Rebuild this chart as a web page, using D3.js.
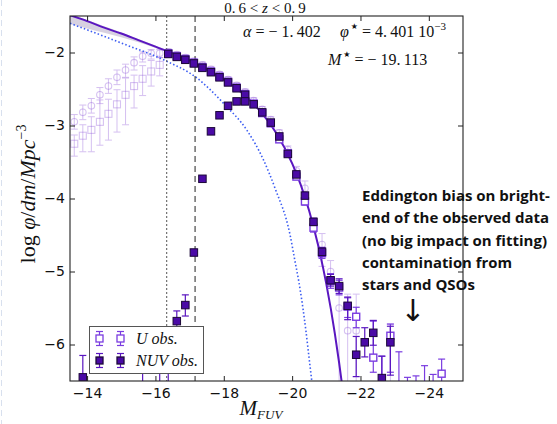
<!DOCTYPE html>
<html>
<head>
<meta charset="utf-8">
<script src="https://cdn.jsdelivr.net/npm/d3@7"></script>
<style>
    body { margin: 0; background: #fff; }
    svg { display: block; }
    .tick text { font-family: "DejaVu Sans", sans-serif; font-size: 14px; fill: #111; }
    .tick line { stroke: #222; }
    .math { font-family: "Liberation Serif", "DejaVu Serif", serif; fill: #111; }
    .note { font-family: "Open Sans", Lato, sans-serif; font-weight: bold; font-size: 15px; fill: #111; }
</style>
</head>
<body>
<div id="chart"></div>
<script>
// ticks
const xTicks = [-14, -16, -18, -20, -22, -24];
const yTicks = [-2, -3, -4, -5, -6];

// NUV obs. (filled squares)
const nuvMag = [-16.375, -16.625, -16.875, -17.125, -17.375, -17.625, -17.875, -18.125, -18.375, -18.625,
    -18.875, -19.125, -19.375, -19.625, -19.875, -20.125, -20.375, -20.625, -20.875, -21.125,
    -21.375, -21.625, -21.875, -22.125, -22.375, -22.625, -22.875,
    -13.875, -15.625, -16.125, -16.375, -16.625, -16.875, -17.125, -17.375, -17.625, -17.875,
    -18.125, -18.375, -18.625];
const nuvLogPhi = [-2.02, -2.06, -2.10, -2.15, -2.21, -2.27, -2.34, -2.41, -2.49, -2.58,
    -2.71, -2.82, -2.96, -3.15, -3.39, -3.67, -3.96, -4.32, -4.73, -5.12,
    -5.20, -5.47, -6.14, -5.97, -5.84, -6.46, -5.97,
    -6.45, -6.90, -6.90, -6.90, -5.68, -5.46, -4.74, -3.73, -3.08, -2.86,
    -2.73, -2.67, -2.67];
const nuvErrLo = [0.04, 0.04, 0.04, 0.04, 0.03, 0.03, 0.03, 0.03, 0.03, 0.03,
    0.03, 0.03, 0.03, 0.03, 0.03, 0.04, 0.04, 0.05, 0.06, 0.08,
    0.10, 0.19, 0.30, 0.20, 0.17, 0.30, 0.45,
    0.30, 0.30, 0.30, 0.30, 0.20, 0.15, 0.04, 0.03, 0.03, 0.03,
    0.03, 0.03, 0.03];
const nuvErrHi = [0.04, 0.04, 0.04, 0.04, 0.03, 0.03, 0.03, 0.03, 0.03, 0.03,
    0.03, 0.03, 0.03, 0.03, 0.03, 0.04, 0.04, 0.05, 0.06, 0.08,
    0.10, 0.12, 0.25, 0.20, 0.17, 0.30, 0.22,
    0.30, 0.70, 0.70, 0.70, 0.14, 0.14, 0.04, 0.03, 0.03, 0.03,
    0.03, 0.03, 0.03];

// U obs. (open squares)
const uMag = [-16.375, -16.625, -16.875, -17.125, -17.375, -17.625, -17.875, -18.125, -18.375, -18.625,
    -18.875, -19.125, -19.375, -19.625, -19.875, -20.125, -20.375, -20.625, -20.875, -21.125,
    -21.375, -21.625, -21.875, -22.375, -22.625, -22.875, -23.125, -23.375, -23.625, -23.875,
    -24.125, -24.375];
const uLogPhi = [-2.01, -2.05, -2.09, -2.14, -2.20, -2.26, -2.33, -2.40, -2.48, -2.57,
    -2.70, -2.83, -2.97, -3.19, -3.38, -3.70, -4.04, -4.40, -4.75, -5.13,
    -5.22, -5.48, -5.62, -6.18, -6.90, -5.88, -6.90, -6.90, -6.90, -6.90,
    -6.90, -6.40];
const uErrLo = [0.04, 0.04, 0.04, 0.04, 0.03, 0.03, 0.03, 0.03, 0.03, 0.03,
    0.03, 0.03, 0.03, 0.03, 0.03, 0.04, 0.05, 0.06, 0.07, 0.10,
    0.10, 0.15, 0.15, 0.20, 0.10, 0.50, 0.10, 0.10, 0.10, 0.10,
    0.10, 0.30];
const uErrHi = [0.04, 0.04, 0.04, 0.04, 0.03, 0.03, 0.03, 0.03, 0.03, 0.03,
    0.03, 0.03, 0.03, 0.03, 0.03, 0.04, 0.05, 0.06, 0.07, 0.10,
    0.10, 0.12, 0.13, 0.50, 0.74, 0.16, 0.80, 0.45, 0.47, 0.61,
    0.49, 0.20];

// faded open circles
const fcMag = [-13.625, -13.875, -14.125, -14.375, -14.625, -14.875, -15.125, -15.375, -15.625, -15.875,
    -16.125, -16.375, -16.625, -16.875, -17.125, -17.375, -17.625, -17.875, -18.125, -18.375,
    -18.625, -18.875, -19.125, -19.375, -19.625, -19.875, -20.125, -20.375, -20.875, -21.125,
    -21.375, -21.625, -21.875, -22.875];
const fcLogPhi = [-2.95, -2.82, -2.73, -2.58, -2.46, -2.34, -2.24, -2.14, -2.05, -2.01,
    -2.01, -1.99, -2.03, -2.07, -2.12, -2.17, -2.23, -2.30, -2.37, -2.45,
    -2.54, -2.66, -2.78, -2.92, -3.10, -3.33, -3.62, -3.86, -4.63, -5.00,
    -5.50, -5.81, -5.81, -6.90];
const fcErrLo = [0.10, 0.10, 0.10, 0.12, 0.10, 0.10, 0.10, 0.10, 0.08, 0.08,
    0.06, 0.04, 0.04, 0.04, 0.04, 0.04, 0.04, 0.04, 0.04, 0.04,
    0.04, 0.04, 0.04, 0.04, 0.04, 0.05, 0.06, 0.10, 0.30, 0.15,
    1.20, 1.00, 1.00, 0.10];
const fcErrHi = [0.10, 0.10, 0.10, 0.10, 0.10, 0.10, 0.08, 0.08, 0.06, 0.05,
    0.05, 0.04, 0.04, 0.04, 0.04, 0.04, 0.04, 0.04, 0.04, 0.04,
    0.04, 0.04, 0.04, 0.04, 0.04, 0.05, 0.06, 0.10, 0.15, 0.15,
    0.30, 0.50, 0.50, 1.18];

// faded open squares
const fsMag = [-13.625, -13.875, -14.125, -14.375, -14.625, -14.875, -15.125, -15.375, -15.625, -15.875, -16.125];
const fsLogPhi = [-3.25, -3.14, -3.06, -2.95, -2.84, -2.71, -2.58, -2.46, -2.36, -2.26, -2.17];
const fsErrLo = [0.17, 0.22, 0.30, 0.32, 0.36, 0.38, 0.41, 0.30, 0.23, 0.20, 0.15];
const fsErrHi = [0.12, 0.15, 0.18, 0.30, 0.20, 0.20, 0.23, 0.15, 0.18, 0.15, 0.10];

// Schechter fit (solid)
const fitMag = [-13.5, -14, -14.5, -15, -15.5, -16, -16.5, -17, -17.5, -18, -18.5, -19, -19.5, -20,
    -20.25, -20.5, -20.75, -21, -21.25, -21.375, -21.5];
const fitLogPhi = [-1.49, -1.57, -1.66, -1.74, -1.83, -1.92, -2.01, -2.11, -2.23, -2.37, -2.54, -2.77, -3.08, -3.52,
    -3.81, -4.17, -4.62, -5.17, -5.85, -6.25, -6.69];

// uncertainty band of the fit
const bandMag = [-13.5, -14.0, -14.5, -15.0, -15.5, -16.0, -16.5];
const bandHi = [-1.47, -1.555, -1.64, -1.725, -1.815, -1.905, -2.0];
const bandLo = [-1.61, -1.67, -1.73, -1.79, -1.86, -1.94, -2.025];

// reference curve (blue dotted)
const refMag = [-13.5, -15, -16.33, -17.16, -18.04, -18.67, -19.16, -19.5, -19.94, -20.08, -20.2, -20.3, -20.4, -20.5, -20.58];
const refLogPhi = [-1.60, -1.87, -2.12, -2.33, -2.72, -3.06, -3.47, -3.86, -4.50, -4.85, -5.15, -5.45, -5.80, -6.20, -6.52];

// limits
const limDotted = -16.33;
const limDashed = -17.16;

const noteLines = ["Eddington bias on bright-", "end of the observed data", "(no big impact on fitting)",
    "contamination from", "stars and QSOs"];
const noteWidths = [null, null, null, 150, 113];

const [svgW, svgH] = [557, 424];
const PLOT = {left: 70, right: 463, top: 16, bottom: 381};
const PURPLE = '#5a16c0';
const U_COL = '#7a3ce0';
const FADE_COL = '#8a4fd8';

let svg = d3.select('#chart').append('svg').attr('width', svgW).attr('height', svgH);

let x = d3.scaleLinear().domain([-13.5, -25]).range([PLOT.left, PLOT.right]);
let y = d3.scaleLinear().domain([-6.5, -1.5]).range([PLOT.bottom, PLOT.top]);

function zip(mag, val, lo, hi) {
    return mag.map(function (m, i) {
        return {m: m, v: val[i], lo: lo ? lo[i] : 0, hi: hi ? hi[i] : 0};
    });
}

// slide border on the left
svg.append('line').attr('x1', 1.5).attr('x2', 1.5).attr('y1', 0).attr('y2', svgH)
    .attr('stroke', '#d8e0ee').attr('stroke-dasharray', '6,4');

svg.append('defs').append('clipPath').attr('id', 'clip')
    .append('rect').attr('x', PLOT.left).attr('y', PLOT.top)
    .attr('width', PLOT.right - PLOT.left).attr('height', PLOT.bottom - PLOT.top);

let g = svg.append('g').attr('clip-path', 'url(#clip)');

function renderErrors(sel, data, color, opacity, width) {
    let eg = sel.append('g').attr('stroke', color).attr('stroke-width', width).attr('opacity', opacity);
    eg.selectAll('line.v').data(data).enter().append('line').attr('class', 'v')
        .attr('x1', d => x(d.m)).attr('x2', d => x(d.m))
        .attr('y1', d => y(d.v - d.lo)).attr('y2', d => y(d.v + d.hi));
    eg.selectAll('line.t').data(data).enter().append('line').attr('class', 't')
        .attr('x1', d => x(d.m) - 3.5).attr('x2', d => x(d.m) + 3.5)
        .attr('y1', d => y(d.v + d.hi)).attr('y2', d => y(d.v + d.hi));
    eg.selectAll('line.b').data(data).enter().append('line').attr('class', 'b')
        .attr('x1', d => x(d.m) - 3.5).attr('x2', d => x(d.m) + 3.5)
        .attr('y1', d => y(d.v - d.lo)).attr('y2', d => y(d.v - d.lo));
}

function renderSquares(sel, data, size, fill, stroke, sw, opacity) {
    sel.append('g').selectAll('rect').data(data).enter().append('rect')
        .attr('x', d => x(d.m) - size / 2).attr('y', d => y(d.v) - size / 2)
        .attr('width', size).attr('height', size)
        .attr('fill', fill).attr('stroke', stroke).attr('stroke-width', sw).attr('opacity', opacity);
}

// band
let band = bandMag.map((m, i) => ({m: m, hi: bandHi[i], lo: bandLo[i]}));
g.append('path').datum(band).attr('fill', '#cdc6da').attr('opacity', 0.8)
    .attr('d', d3.area().x(d => x(d.m)).y0(d => y(d.lo)).y1(d => y(d.hi)).curve(d3.curveMonotoneX));

// faded data
let fc = zip(fcMag, fcLogPhi, fcErrLo, fcErrHi);
let fs = zip(fsMag, fsLogPhi, fsErrLo, fsErrHi);
renderErrors(g, fc, FADE_COL, 0.35, 1);
renderErrors(g, fs, FADE_COL, 0.35, 1);
g.append('g').selectAll('circle').data(fc).enter().append('circle')
    .attr('cx', d => x(d.m)).attr('cy', d => y(d.v)).attr('r', 3.3)
    .attr('fill', 'none').attr('stroke', FADE_COL).attr('stroke-width', 1.1).attr('opacity', 0.35);
renderSquares(g, fs, 7, 'none', FADE_COL, 1.1, 0.35);

// reference curve
g.append('path').datum(zip(refMag, refLogPhi))
    .attr('fill', 'none').attr('stroke', '#3b5cf2').attr('stroke-width', 1.6)
    .attr('stroke-dasharray', '1.5,2.2')
    .attr('d', d3.line().x(d => x(d.m)).y(d => y(d.v)).curve(d3.curveMonotoneX));

// completeness limits
g.append('line').attr('x1', x(limDotted)).attr('x2', x(limDotted)).attr('y1', PLOT.top).attr('y2', PLOT.bottom)
    .attr('stroke', '#555').attr('stroke-dasharray', '2,2').attr('stroke-width', 1);
g.append('line').attr('x1', x(limDashed)).attr('x2', x(limDashed)).attr('y1', PLOT.top).attr('y2', PLOT.bottom)
    .attr('stroke', '#222').attr('stroke-dasharray', '6,4').attr('stroke-width', 1);

// fit
g.append('path').datum(zip(fitMag, fitLogPhi))
    .attr('fill', 'none').attr('stroke', PURPLE).attr('stroke-width', 2)
    .attr('d', d3.line().x(d => x(d.m)).y(d => y(d.v)).curve(d3.curveMonotoneX));

// U obs.
let uData = zip(uMag, uLogPhi, uErrLo, uErrHi);
renderErrors(g, uData, U_COL, 1, 1.2);
renderSquares(g, uData, 7, '#fff', U_COL, 1.4, 1);

// NUV obs.
let nuvData = zip(nuvMag, nuvLogPhi, nuvErrLo, nuvErrHi);
renderErrors(g, nuvData, PURPLE, 1, 1.2);
renderSquares(g, nuvData, 7.5, '#4a0aa6', '#1c0838', 1, 1);

// axes
let axB = svg.append('g').attr('transform', 'translate(0,' + PLOT.bottom + ')')
    .call(d3.axisBottom(x).tickValues(xTicks).tickSize(-5).tickPadding(7).tickFormat(d3.format('d')));
let axT = svg.append('g').attr('transform', 'translate(0,' + PLOT.top + ')')
    .call(d3.axisTop(x).tickValues(xTicks).tickSize(-5).tickFormat(''));
let axL = svg.append('g').attr('transform', 'translate(' + PLOT.left + ',0)')
    .call(d3.axisLeft(y).tickValues(yTicks).tickSize(-5).tickPadding(5).tickFormat(d3.format('d')));
let axR = svg.append('g').attr('transform', 'translate(' + PLOT.right + ',0)')
    .call(d3.axisRight(y).tickValues(yTicks).tickSize(-5).tickFormat(''));
[axB, axT, axL, axR].forEach(a => a.select('.domain').remove());
svg.append('rect').attr('x', PLOT.left).attr('y', PLOT.top)
    .attr('width', PLOT.right - PLOT.left).attr('height', PLOT.bottom - PLOT.top)
    .attr('fill', 'none').attr('stroke', '#222').attr('stroke-width', 1.1);

// legend
let lg = svg.append('g');
lg.append('rect').attr('x', 89.5).attr('y', 326.5).attr('width', 114).attr('height', 47)
    .attr('fill', '#fff').attr('stroke', '#555').attr('stroke-width', 1);
[{label: 'U obs.', y: 338.5, fill: '#fff', stroke: U_COL, err: U_COL},
    {label: 'NUV obs.', y: 360.5, fill: '#4a0aa6', stroke: '#1c0838', err: PURPLE}].forEach(function (e) {
    [99.5, 120.5].forEach(function (px) {
        lg.append('line').attr('x1', px).attr('x2', px).attr('y1', e.y - 7).attr('y2', e.y + 7)
            .attr('stroke', e.err).attr('stroke-width', 1.2);
        [e.y - 7, e.y + 7].forEach(function (cy) {
            lg.append('line').attr('x1', px - 3.5).attr('x2', px + 3.5).attr('y1', cy).attr('y2', cy)
                .attr('stroke', e.err).attr('stroke-width', 1.2);
        });
        lg.append('rect').attr('x', px - 3.5).attr('y', e.y - 3.5).attr('width', 7).attr('height', 7)
            .attr('fill', e.fill).attr('stroke', e.stroke).attr('stroke-width', 1.3);
    });
    lg.append('text').attr('class', 'math').attr('x', 136).attr('y', e.y + 5.5)
        .attr('font-size', 16).attr('font-style', 'italic').text(e.label);
});

// title
let title = svg.append('text').attr('class', 'math').attr('x', 265).attr('y', 13)
    .attr('text-anchor', 'middle').attr('font-size', 15);
title.append('tspan').text('0.\u20096 < ');
title.append('tspan').attr('font-style', 'italic').text('z');
title.append('tspan').text(' < 0.\u20099');

// fit parameters
let t1 = svg.append('text').attr('class', 'math').attr('x', 243).attr('y', 37).attr('font-size', 16);
t1.append('tspan').attr('font-style', 'italic').text('α');
t1.append('tspan').text(' = \u2212 1.\u2009402');
let t2 = svg.append('text').attr('class', 'math').attr('x', 340).attr('y', 37).attr('font-size', 16);
t2.append('tspan').attr('font-style', 'italic').text('φ');
t2.append('tspan').attr('font-size', 8).attr('dx', 2).attr('dy', -8).attr('font-family', 'DejaVu Sans').text('★');
t2.append('tspan').attr('dy', 8).text(' = 4.\u2009401 10');
t2.append('tspan').attr('font-size', 11).attr('dy', -7).text('\u22123');
let t3 = svg.append('text').attr('class', 'math').attr('x', 328).attr('y', 65).attr('font-size', 16);
t3.append('tspan').attr('font-style', 'italic').text('M');
t3.append('tspan').attr('font-size', 8).attr('dx', 2).attr('dy', -8).attr('font-family', 'DejaVu Sans').text('★');
t3.append('tspan').attr('dy', 8).text(' = \u2212 19.\u2009113');

// axis labels
let yl = svg.append('text').attr('class', 'math').attr('transform', 'translate(35,194) rotate(-90)')
    .attr('text-anchor', 'middle').attr('font-size', 22);
yl.append('tspan').text('log ');
yl.append('tspan').attr('font-style', 'italic').text('φ');
yl.append('tspan').text('/');
yl.append('tspan').attr('font-style', 'italic').text('dm');
yl.append('tspan').text('/');
yl.append('tspan').attr('font-style', 'italic').text('Mpc');
yl.append('tspan').attr('font-size', 14).attr('dy', -9).text('\u22123');

let xl = svg.append('text').attr('class', 'math').attr('x', 261).attr('y', 415)
    .attr('text-anchor', 'middle').attr('font-size', 21);
xl.append('tspan').attr('font-style', 'italic').text('M');
xl.append('tspan').attr('font-style', 'italic').attr('font-size', 13).attr('dy', 4).text('FUV');

// annotation
svg.append('g').selectAll('text').data(noteLines).enter().append('text')
    .attr('class', 'note').attr('x', 362).attr('y', (d, i) => 201 + i * 22.3)
    .attr('textLength', (d, i) => noteWidths[i]).attr('lengthAdjust', (d, i) => noteWidths[i] ? 'spacingAndGlyphs' : null)
    .text(d => d);
svg.append('text').attr('x', 412.7).attr('y', 321).attr('text-anchor', 'middle')
    .attr('font-family', 'DejaVu Sans').attr('font-size', 30).attr('fill', '#111').text('↓');
</script>
</body>
</html>
